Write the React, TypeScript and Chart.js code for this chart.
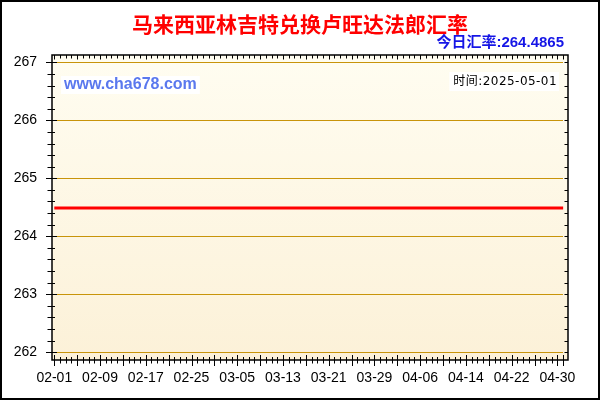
import { useEffect, useRef } from "react";
import { Chart, registerables } from "chart.js";

Chart.register(...registerables);

const TITLE = "马来西亚林吉特兑换卢旺达法郎汇率";
const CURRENT_RATE_LABEL = "今日汇率:264.4865";
const WATERMARK = "www.cha678.com";
const TIME_LABEL = "时间:2025-05-01";

const dates = [
  "02-01", "02-02", "02-03", "02-04", "02-05", "02-06", "02-07", "02-08", "02-09", "02-10",
  "02-11", "02-12", "02-13", "02-14", "02-15", "02-16", "02-17", "02-18", "02-19", "02-20",
  "02-21", "02-22", "02-23", "02-24", "02-25", "02-26", "02-27", "02-28", "03-01", "03-02",
  "03-03", "03-04", "03-05", "03-06", "03-07", "03-08", "03-09", "03-10", "03-11", "03-12",
  "03-13", "03-14", "03-15", "03-16", "03-17", "03-18", "03-19", "03-20", "03-21", "03-22",
  "03-23", "03-24", "03-25", "03-26", "03-27", "03-28", "03-29", "03-30", "03-31", "04-01",
  "04-02", "04-03", "04-04", "04-05", "04-06", "04-07", "04-08", "04-09", "04-10", "04-11",
  "04-12", "04-13", "04-14", "04-15", "04-16", "04-17", "04-18", "04-19", "04-20", "04-21",
  "04-22", "04-23", "04-24", "04-25", "04-26", "04-27", "04-28", "04-29", "04-30", "05-01",
];

const rates = [
  264.4865, 264.4865, 264.4865, 264.4865, 264.4865, 264.4865, 264.4865, 264.4865, 264.4865, 264.4865,
  264.4865, 264.4865, 264.4865, 264.4865, 264.4865, 264.4865, 264.4865, 264.4865, 264.4865, 264.4865,
  264.4865, 264.4865, 264.4865, 264.4865, 264.4865, 264.4865, 264.4865, 264.4865, 264.4865, 264.4865,
  264.4865, 264.4865, 264.4865, 264.4865, 264.4865, 264.4865, 264.4865, 264.4865, 264.4865, 264.4865,
  264.4865, 264.4865, 264.4865, 264.4865, 264.4865, 264.4865, 264.4865, 264.4865, 264.4865, 264.4865,
  264.4865, 264.4865, 264.4865, 264.4865, 264.4865, 264.4865, 264.4865, 264.4865, 264.4865, 264.4865,
  264.4865, 264.4865, 264.4865, 264.4865, 264.4865, 264.4865, 264.4865, 264.4865, 264.4865, 264.4865,
  264.4865, 264.4865, 264.4865, 264.4865, 264.4865, 264.4865, 264.4865, 264.4865, 264.4865, 264.4865,
  264.4865, 264.4865, 264.4865, 264.4865, 264.4865, 264.4865, 264.4865, 264.4865, 264.4865, 264.4865,
];

const xTickLabels = ["02-01", "02-09", "02-17", "02-25", "03-05", "03-13", "03-21", "03-29", "04-06", "04-14", "04-22", "04-30"];
const yTickValues = [262, 263, 264, 265, 266, 267];

const X_MIN = -0.4;
const X_MAX = 89.85;
const Y_MIN = 261.867;
const Y_MAX = 267.126;

const SANS = "Arial, 'Liberation Sans', sans-serif";
const CJK = "'Noto Sans CJK SC', 'Noto Sans', sans-serif";

const decorPlugin = {
  id: "decor",
  beforeDraw(chart: any) {
    const { ctx, chartArea: a } = chart;
    ctx.save();
    ctx.fillStyle = "#ffffff";
    ctx.fillRect(0, 0, chart.width, chart.height);
    const g = ctx.createLinearGradient(0, a.top, 0, a.bottom);
    g.addColorStop(0, "#FFFDF1");
    g.addColorStop(1, "#FCF1D8");
    ctx.fillStyle = g;
    ctx.fillRect(a.left, a.top, a.right - a.left, a.bottom - a.top);
    ctx.restore();
  },
  beforeDatasetsDraw(chart: any) {
    const { ctx, chartArea: a, scales } = chart;
    const y = scales.y;
    ctx.save();
    ctx.strokeStyle = "#C8940A";
    ctx.lineWidth = 1;
    for (const v of yTickValues) {
      const py = Math.round(y.getPixelForValue(v)) + 0.5;
      ctx.beginPath();
      ctx.moveTo(a.left + 5, py);
      ctx.lineTo(a.right - 5, py);
      ctx.stroke();
    }
    // watermark
    ctx.font = `bold 16px ${SANS}`;
    ctx.textBaseline = "middle";
    ctx.textAlign = "left";
    const ww = ctx.measureText(WATERMARK).width;
    ctx.fillStyle = "#ffffff";
    ctx.fillRect(a.left + 9, 76, ww + 6, 18);
    ctx.fillStyle = "#5A78EE";
    ctx.fillText(WATERMARK, a.left + 12, 85);
    // time label
    ctx.font = `12px 'DejaVu Sans', ${CJK}`;
    try {
      (ctx as any).letterSpacing = "0.45px";
    } catch (e) {}
    ctx.textAlign = "right";
    const tw = ctx.measureText(TIME_LABEL).width;
    ctx.fillStyle = "#ffffff";
    ctx.fillRect(a.right - 10 - tw - 5, 72, tw + 6, 19);
    ctx.fillStyle = "#000000";
    ctx.fillText(TIME_LABEL, a.right - 11, 82);
    try {
      (ctx as any).letterSpacing = "0px";
    } catch (e) {}
    ctx.restore();
  },
  afterDraw(chart: any) {
    const { ctx, chartArea: a, scales } = chart;
    const x = scales.x;
    const y = scales.y;
    ctx.save();
    ctx.strokeStyle = "#000000";
    ctx.lineWidth = 1.5;
    ctx.strokeRect(a.left, a.top, a.right - a.left, a.bottom - a.top);
    ctx.lineWidth = 1;
    ctx.beginPath();
    // y ticks (left and right)
    for (let i = 0; i <= 25; i++) {
      const v = yTickValues[0] + i * 0.2;
      const py = Math.round(y.getPixelForValue(v)) + 0.5;
      const major = i % 5 === 0;
      ctx.moveTo(a.left - (major ? 6 : 4.5), py);
      ctx.lineTo(a.left + (major ? 5 : 3), py);
      ctx.moveTo(a.right - 3.5, py);
      ctx.lineTo(a.right, py);
    }
    // x ticks (top and bottom)
    for (let d = 0; d < dates.length; d++) {
      const px = Math.round(x.getPixelForValue(d)) + 0.5;
      const major = d % 4 === 0 || d === dates.length - 1;
      ctx.moveTo(px, a.bottom - (major ? 5 : 3));
      ctx.lineTo(px, a.bottom + (major ? 6 : 3.5));
      ctx.moveTo(px, a.top);
      ctx.lineTo(px, a.top + (major ? 4.5 : 3.5));
    }
    ctx.stroke();

    // titles
    ctx.textBaseline = "middle";
    ctx.textAlign = "center";
    ctx.fillStyle = "#FF0000";
    ctx.font = `bold 21px ${CJK}`;
    ctx.fillText(TITLE, 300, 24);
    ctx.textAlign = "right";
    ctx.fillStyle = "#1515E6";
    ctx.font = `bold 15px ${SANS}, ${CJK}`;
    ctx.fillText(CURRENT_RATE_LABEL, 564, 43);

    // outer border
    ctx.strokeStyle = "#000000";
    ctx.lineWidth = 2;
    ctx.strokeRect(1, 1, chart.width - 2, chart.height - 2);
    ctx.restore();
  },
};

export default function App() {
  const canvasRef = useRef<HTMLCanvasElement | null>(null);

  useEffect(() => {
    if (!canvasRef.current) return;
    const points = rates.map((r, i) => ({ x: i, y: r }));
    const xTickValues = xTickLabels.map((l) => dates.indexOf(l));
    const chart = new Chart(canvasRef.current, {
      type: "line",
      data: {
        datasets: [
          {
            data: points,
            borderColor: "#FF0000",
            borderWidth: 3,
            pointRadius: 0,
            tension: 0,
            fill: false,
          },
        ],
      },
      options: {
        animation: false,
        responsive: false,
        devicePixelRatio: 1,
        layout: { padding: { left: 0, top: 55, right: 32, bottom: 0 } },
        plugins: {
          legend: { display: false },
          title: { display: false },
          tooltip: { enabled: false },
        },
        scales: {
          x: {
            type: "linear",
            min: X_MIN,
            max: X_MAX,
            grid: { display: false, drawTicks: false },
            border: { display: false },
            afterBuildTicks: (scale: any) => {
              scale.ticks = xTickValues.map((v) => ({ value: v }));
            },
            afterFit: (scale: any) => {
              scale.height = 40;
            },
            ticks: {
              autoSkip: false,
              maxRotation: 0,
              padding: 10,
              color: "#000000",
              font: { family: SANS, size: 14 },
              callback: (v: any) => dates[Number(v)] ?? "",
            },
          },
          y: {
            min: Y_MIN,
            max: Y_MAX,
            grid: { display: false, drawTicks: false },
            border: { display: false },
            afterBuildTicks: (scale: any) => {
              scale.ticks = yTickValues.map((v) => ({ value: v }));
            },
            afterFit: (scale: any) => {
              scale.width = 52;
            },
            ticks: {
              padding: 15,
              color: "#000000",
              font: { family: SANS, size: 14 },
              callback: (v: any) => String(v),
            },
          },
        },
      },
      plugins: [decorPlugin],
    });
    return () => chart.destroy();
  }, []);

  return (
    <div style={{ position: "absolute", left: 0, top: 0, width: 600, height: 400 }}>
      <canvas ref={canvasRef} width={600} height={400} style={{ width: 600, height: 400, display: "block" }} />
    </div>
  );
}
